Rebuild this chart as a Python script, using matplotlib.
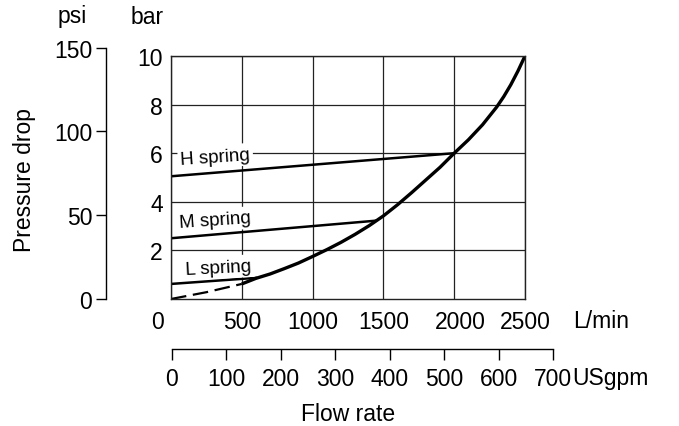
import numpy as np
import matplotlib
matplotlib.use('Agg')
import matplotlib.pyplot as plt
from matplotlib.transforms import ScaledTranslation

plt.rcParams['font.family'] = ['Liberation Sans', 'DejaVu Sans']

# --- data (flow in L/min, pressure drop in bar) ---
flow_ticks = [0, 500, 1000, 1500, 2000, 2500]
bar_ticks = [2, 4, 6, 8, 10]
psi_ticks = [0, 50, 100, 150]
gpm_ticks = [0, 100, 200, 300, 400, 500, 600, 700]

# main pressure drop curve
curve_flow = [500, 600, 700, 800, 900, 1000, 1100, 1200, 1300, 1400, 1500,
              1600, 1700, 1800, 1900, 2000, 2100, 2200, 2300, 2350, 2400,
              2450, 2500]
curve_bar = [0.62, 0.85, 1.03, 1.25, 1.48, 1.75, 2.03, 2.33, 2.66, 3.02, 3.42,
             3.88, 4.38, 4.9, 5.42, 6.0, 6.55, 7.17, 7.9, 8.33, 8.82,
             9.38, 10.0]
# dashed low-flow part
dash_flow = [0, 250, 500]
dash_bar = [0.0, 0.28, 0.62]

# spring lines
h_flow, h_bar = [0, 2000], [5.05, 6.0]
m_flow, m_bar = [0, 1441], [2.5, 3.22]
l_flow, l_bar = [0, 600], [0.62, 0.87]

BAR_PER_PSI = 0.0689476
FS = 16.5

W, H = 679, 427
fig = plt.figure(figsize=(W / 100, H / 100), dpi=100)


def px(x0, y0, x1, y1):
    # pixel box (left, top, right, bottom) -> figure fraction rect
    return [x0 / W, 1 - y1 / H, (x1 - x0) / W, (y1 - y0) / H]


# --- main grid box ---
L, T, R, B = 171, 57, 525, 300
ax = fig.add_axes(px(L, T, R, B))
ax.set_xlim(0, 2500)
ax.set_ylim(0, 10)
ax.set_xticks(flow_ticks)
ax.set_yticks(bar_ticks)
ax.grid(True, color='#222222', linewidth=0.9)
ax.tick_params(length=0, labelsize=FS, pad=6)
ax.tick_params(axis='x', pad=8)
for s in ax.spines.values():
    s.set_linewidth(1.0)
    s.set_color('#222222')
ax.set_axisbelow(True)
# nudge first/last x labels like the original
labs = ax.get_xticklabels()
labs[0].set_transform(labs[0].get_transform() + ScaledTranslation(-13 / 100, 0, fig.dpi_scale_trans))
labs[4].set_transform(labs[4].get_transform() + ScaledTranslation(6 / 100, 0, fig.dpi_scale_trans))

ax.plot(dash_flow, dash_bar, color='black', lw=1.6, dashes=(7, 3))
ax.plot(curve_flow, curve_bar, color='black', lw=2.4, solid_capstyle='butt',
        solid_joinstyle='round')
ax.plot(h_flow, h_bar, color='black', lw=1.8)
ax.plot(m_flow, m_bar, color='black', lw=1.8)
ax.plot(l_flow, l_bar, color='black', lw=1.8)

box = dict(facecolor='white', edgecolor='none', pad=2)
ax.text(64, 5.86, 'H spring', fontsize=13.5, rotation=4, va='center', ha='left', bbox=box)
ax.text(57, 3.25, 'M spring', fontsize=13.5, rotation=4, va='center', ha='left', bbox=box)
ax.text(99, 1.3, 'L spring', fontsize=13.5, rotation=3, va='center', ha='left', bbox=box)

ax.text(1.135, -0.09, 'L/min', transform=ax.transAxes, fontsize=FS, ha='left', va='center')

# --- psi axis (separate spine on the left) ---
psi_top = B - 150 * BAR_PER_PSI * (B - T) / 10
axp = fig.add_axes(px(106, psi_top, 107, B))
axp.set_ylim(0, 150)
axp.set_yticks(psi_ticks)
axp.set_xticks([])
for k in ['top', 'right', 'bottom']:
    axp.spines[k].set_visible(False)
axp.patch.set_visible(False)
axp.spines['left'].set_linewidth(1.0)
axp.tick_params(axis='y', length=7, width=1.0, labelsize=FS, pad=3)

# --- USgpm axis (separate spine below) ---
axg = fig.add_axes(px(172, 349, 553, 350))
axg.set_xlim(0, 700)
axg.set_xticks(gpm_ticks)
axg.set_yticks([])
for k in ['top', 'right', 'left']:
    axg.spines[k].set_visible(False)
axg.patch.set_visible(False)
axg.spines['bottom'].set_linewidth(1.0)
axg.tick_params(axis='x', length=8, width=1.0, labelsize=FS, pad=5)

# --- labels ---
fig.text(72 / W, 1 - 17 / H, 'psi', fontsize=FS, ha='center', va='center')
fig.text(147 / W, 1 - 17 / H, 'bar', fontsize=FS, ha='center', va='center')
fig.text(25 / W, 1 - 180 / H, 'Pressure drop', fontsize=FS, rotation=90, ha='center', va='center')
fig.text(348 / W, 1 - 415 / H, 'Flow rate', fontsize=FS, ha='center', va='center')
fig.text(572 / W, 1 - 379 / H, 'USgpm', fontsize=FS, ha='left', va='center')

fig.savefig('out.png', dpi=100)
